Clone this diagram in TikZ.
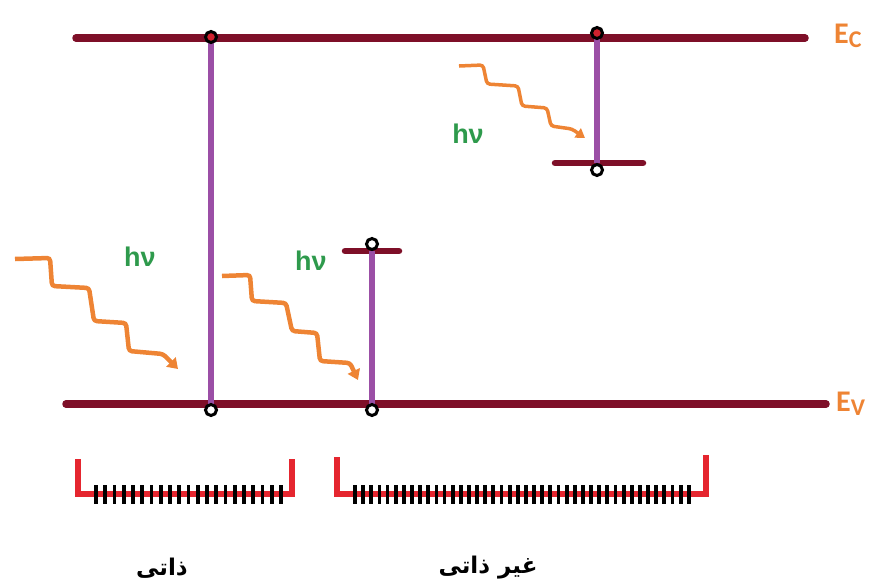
\documentclass[tikz,border=0pt]{standalone}
\usepackage{fontspec}
\setmainfont{Liberation Sans}
\newfontfamily\labelfont{Carlito}
\newfontfamily\arabicfont[Script=Arabic]{DejaVu Sans}
\TeXXeTstate=1
\usetikzlibrary{arrows.meta}
\definecolor{bandred}{HTML}{7E0F28}
\definecolor{transpurple}{HTML}{9B4FA6}
\definecolor{photonorange}{HTML}{EE8434}
\definecolor{hvgreen}{HTML}{2E9A4C}
\definecolor{bracketred}{HTML}{E5262F}
\tikzset{
  band/.style={bandred, line width=7.5pt, line cap=round},
  level/.style={bandred, line width=6.5pt, line cap=round},
  transition/.style={transpurple, line width=5.5pt},
  carrier/.style={circle, draw=black, line width=3pt, fill=white, inner sep=0pt, minimum size=11pt},
  photon/.style={photonorange, line width=4.5pt, rounded corners=3pt,
    -{Triangle[length=10pt, width=13pt]}},
  hvlabel/.style={hvgreen, font=\bfseries\fontsize{27}{27}\selectfont, inner sep=0pt},
  bandlabel/.style={photonorange, font=\labelfont\bfseries\fontsize{30}{30}\selectfont, inner sep=0pt},
  bracket/.style={bracketred, line width=6.5pt},
  tick/.style={black, line width=3.8pt},
  caption/.style={font=\arabicfont\bfseries\fontsize{23}{23}\selectfont, inner sep=0pt}
}
\begin{document}
\begin{tikzpicture}[x=1pt, y=-1pt]
\useasboundingbox (0,0) rectangle (889,584);

% energy bands
\coordinate (ecL) at (76,38);  \coordinate (ecR) at (805,38);
\coordinate (evL) at (66,404); \coordinate (evR) at (826,404);
\draw[band] (ecL) -- (ecR);
\draw[band] (evL) -- (evR);
\node[bandlabel, anchor=west] (ec) at (834,36) {E\raisebox{-0.3ex}{\fontsize{24}{24}\selectfont C}};
\node[bandlabel, anchor=west] (ev) at (836,404) {E\raisebox{-0.3ex}{\fontsize{24}{24}\selectfont V}};

% impurity levels
\coordinate (dL) at (555,163); \coordinate (dR) at (643,163);
\coordinate (aL) at (345,251); \coordinate (aR) at (399,251);
\draw[level] (dL) -- (dR);
\draw[level] (aL) -- (aR);

% transitions
\coordinate (t1a) at (211,38);  \coordinate (t1b) at (211,404);
\coordinate (t2a) at (597,38);  \coordinate (t2b) at (597,163);
\coordinate (t3a) at (372,251); \coordinate (t3b) at (372,404);
\draw[transition] (t1a) -- (t1b);
\draw[transition] (t2a) -- (t2b);
\draw[transition] (t3a) -- (t3b);

% carriers
\node[carrier, fill=bracketred!80!bandred] (c1) at (211,37) {};
\node[carrier] (c2) at (211,410) {};
\node[carrier, fill=bracketred!80!bandred] (c3) at (597,33) {};
\node[carrier] (c4) at (597,170) {};
\node[carrier] (c5) at (372,244) {};
\node[carrier] (c6) at (372,410) {};

% photons
\coordinate (p1) at (15,259);
\draw[photon] (p1) -- (50,258) -- (52,286) -- (89,288) -- (94,321) -- (126,323)
  -- (129,351) -- (163,354) -- (178,369);
\coordinate (p2) at (222,276);
\draw[photon] (p2) -- (250,275) -- (252,301) -- (286,303) -- (292,331) -- (317,333)
  -- (320,361) -- (350,363) -- (358,380);
\coordinate (p3) at (459,66);
\draw[photon, line width=3.5pt, -{Triangle[length=9pt, width=11pt]}]
  (p3) -- (483,65) -- (487,84) -- (518,86) -- (522,106) -- (547,108)
  -- (551,126) -- (572,129) -- (585,138);

\node[hvlabel] (hv1) at (140,257) {hν};
\node[hvlabel] (hv2) at (311,261) {hν};
\node[hvlabel] (hv3) at (468,134) {hν};

% intrinsic bracket
\coordinate (b1a) at (78,459);  \coordinate (b1b) at (292,459);
\draw[bracket] (b1a) -- (78,494) -- (292,494) -- (b1b);
\foreach \i in {0,...,20} \draw[tick] ({96+\i*9.25},485) -- ({96+\i*9.25},504);

% extrinsic bracket
\coordinate (b2a) at (337,457); \coordinate (b2b) at (706,455);
\draw[bracket] (b2a) -- (337,494) -- (706,494) -- (b2b);
\foreach \i in {0,...,41} \draw[tick] ({355+\i*8.14},485) -- ({355+\i*8.14},504);

% captions
\node[caption] (cap1) at (162,568) {\beginR ذاتی\endR};
\node[caption] (cap2) at (488,568) {\beginR غیر ذاتی\endR};
\end{tikzpicture}
\end{document}
